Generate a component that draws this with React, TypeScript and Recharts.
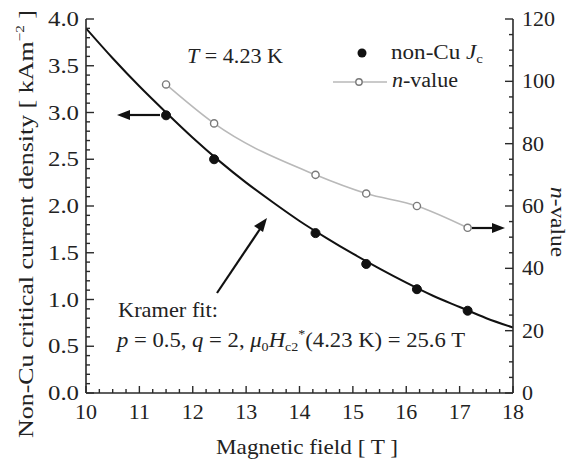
import React from 'react';
import { ComposedChart, Line, XAxis, YAxis } from 'recharts';

const fieldB = [11.5, 12.4, 14.3, 15.25, 16.2, 17.15];
const jcValues = [2.97, 2.5, 1.71, 1.38, 1.11, 0.88];
const nValues = [99, 86.5, 70, 64, 60, 53];

// Kramer fit curve
const fitB = [10, 10.5, 11, 11.5, 12, 12.5, 13, 13.5, 14, 14.5, 15, 15.5, 16, 16.5, 17, 17.5, 18];
const fitJ = [3.9, 3.58, 3.28, 3.0, 2.73, 2.48, 2.25, 2.04, 1.84, 1.66, 1.49, 1.33, 1.18, 1.04, 0.92, 0.8, 0.7];

// Tick positions
const xTicks = [10, 10.25, 10.5, 10.75, 11, 11.25, 11.5, 11.75, 12, 12.25, 12.5, 12.75, 13, 13.25, 13.5, 13.75, 14, 14.25, 14.5, 14.75, 15, 15.25, 15.5, 15.75, 16, 16.25, 16.5, 16.75, 17, 17.25, 17.5, 17.75, 18];
const jTicks = [0, 0.1, 0.2, 0.3, 0.4, 0.5, 0.6, 0.7, 0.8, 0.9, 1.0, 1.1, 1.2, 1.3, 1.4, 1.5, 1.6, 1.7, 1.8, 1.9, 2.0, 2.1, 2.2, 2.3, 2.4, 2.5, 2.6, 2.7, 2.8, 2.9, 3.0, 3.1, 3.2, 3.3, 3.4, 3.5, 3.6, 3.7, 3.8, 3.9, 4.0];
const nTicks = [0, 5, 10, 15, 20, 25, 30, 35, 40, 45, 50, 55, 60, 65, 70, 75, 80, 85, 90, 95, 100, 105, 110, 115, 120];

const measured = fieldB.map((b, i) => ({ B: b, jc: jcValues[i], n: nValues[i] }));
const fit = fitB.map((b, i) => ({ B: b, fit: fitJ[i] }));

const AX = '#2a2a2a';
const FONT = 'Liberation Serif';
const TXT = '#222';
const F = (size: number, extra: React.CSSProperties = {}): React.CSSProperties => ({
  fontFamily: FONT,
  fontSize: size,
  ...extra,
});

const isInt = (v: number, step: number) => Math.abs(v / step - Math.round(v / step)) < 1e-6;

const BottomTick = (props: any) => {
  const { x, y, payload } = props;
  const v = payload.value;
  const major = isInt(v, 1);
  return (
    <g>
      <line x1={x} y1={y} x2={x} y2={y - (major ? 7 : 4)} stroke={AX} strokeWidth={1.4} />
      {major && (
        <text x={x} y={y + 26} textAnchor="middle" style={F(22)} fill={TXT}>
          {v}
        </text>
      )}
    </g>
  );
};

const TopTick = (props: any) => {
  const { x, y, payload } = props;
  const v = payload.value;
  const major = isInt(v, 1);
  return <line x1={x} y1={y} x2={x} y2={y + (major ? 7 : 4)} stroke={AX} strokeWidth={1.4} />;
};

const LeftTick = (props: any) => {
  const { x, y, payload } = props;
  const v = payload.value;
  const major = isInt(v, 0.5);
  return (
    <g>
      <line x1={x} y1={y} x2={x + (major ? 8 : 4)} y2={y} stroke={AX} strokeWidth={1.4} />
      {major && (
        <text x={x - 7} y={y + 7} textAnchor="end" style={F(22)} fill={TXT} textLength={31} lengthAdjust="spacingAndGlyphs">
          {v.toFixed(1)}
        </text>
      )}
    </g>
  );
};

const RightTick = (props: any) => {
  const { x, y, payload } = props;
  const v = payload.value;
  const major = isInt(v, 20);
  return (
    <g>
      <line x1={x} y1={y} x2={x - (major ? 8 : 4)} y2={y} stroke={AX} strokeWidth={1.4} />
      {major && (
        <text x={x + 9} y={y + 7} textAnchor="start" style={F(22)} fill={TXT}>
          {v}
        </text>
      )}
    </g>
  );
};

const Dot = (props: any) => {
  const { cx, cy } = props;
  if (cx == null || cy == null) return null;
  return <circle cx={cx} cy={cy} r={4.5} fill="#111" stroke="#111" />;
};

const OpenDot = (props: any) => {
  const { cx, cy } = props;
  if (cx == null || cy == null) return null;
  return <circle cx={cx} cy={cy} r={3.6} fill="#fff" stroke="#7a7a7a" strokeWidth={1.4} />;
};

export default function App() {
  return (
    <div style={{ position: 'absolute', left: 0, top: 0, width: 572, height: 463, background: '#fff' }}>
      <ComposedChart width={572} height={463} margin={{ top: 19, right: 19, bottom: 30, left: 30 }}>
        <XAxis
          dataKey="B"
          type="number"
          domain={[10, 18]}
          ticks={xTicks}
          interval={0}
          allowDataOverflow
          height={40}
          tickSize={0}
          tickMargin={0}
          tickLine={false}
          axisLine={{ stroke: AX, strokeWidth: 1.6 }}
          tick={(p: any) => <BottomTick {...p} />}
        />
        <XAxis
          xAxisId="top"
          orientation="top"
          dataKey="B"
          type="number"
          domain={[10, 18]}
          ticks={xTicks}
          interval={0}
          allowDataOverflow
          height={0}
          tickSize={0}
          tickMargin={0}
          tickLine={false}
          axisLine={{ stroke: AX, strokeWidth: 1.6 }}
          tick={(p: any) => <TopTick {...p} />}
        />
        <YAxis
          yAxisId="j"
          type="number"
          domain={[0, 4]}
          ticks={jTicks}
          interval={0}
          allowDataOverflow
          width={56}
          tickSize={0}
          tickMargin={0}
          tickLine={false}
          axisLine={{ stroke: AX, strokeWidth: 1.6 }}
          tick={(p: any) => <LeftTick {...p} />}
        />
        <YAxis
          yAxisId="n"
          orientation="right"
          type="number"
          domain={[0, 120]}
          ticks={nTicks}
          interval={0}
          allowDataOverflow
          width={40}
          tickSize={0}
          tickMargin={0}
          tickLine={false}
          axisLine={{ stroke: AX, strokeWidth: 1.6 }}
          tick={(p: any) => <RightTick {...p} />}
        />
        <Line
          yAxisId="j"
          data={fit}
          dataKey="fit"
          type="monotone"
          stroke="#111"
          strokeWidth={2}
          dot={false}
          isAnimationActive={false}
        />
        <Line
          yAxisId="n"
          data={measured}
          dataKey="n"
          type="monotone"
          stroke="#b9b9b9"
          strokeWidth={1.6}
          dot={(p: any) => <OpenDot key={`o${p.index}`} {...p} />}
          isAnimationActive={false}
        />
        <Line
          yAxisId="j"
          data={measured}
          dataKey="jc"
          stroke="none"
          dot={(p: any) => <Dot key={`d${p.index}`} {...p} />}
          isAnimationActive={false}
        />
      </ComposedChart>
      <svg
        width={572}
        height={463}
        style={{ position: 'absolute', left: 0, top: 0, pointerEvents: 'none', fontFamily: FONT }}
        fill={TXT}
      >
        {/* axis titles */}
        <text
          x={33}
          y={224}
          transform="rotate(-90, 33, 224)"
          textAnchor="middle"
          style={F(22)}
          textLength={428}
          lengthAdjust="spacingAndGlyphs"
        >
          Non-Cu critical current density [ kAm
          <tspan style={F(13)} dy={-9}>−2</tspan>
          <tspan dy={9}> ]</tspan>
        </text>
        <text
          x={551}
          y={222}
          transform="rotate(90, 551, 222)"
          textAnchor="middle"
          style={F(22)}
          textLength={70}
          lengthAdjust="spacingAndGlyphs"
        >
          <tspan fontStyle="italic">n</tspan>-value
        </text>
        <text x={307} y={454} textAnchor="middle" style={F(22)} textLength={182} lengthAdjust="spacingAndGlyphs">
          Magnetic field [ T ]
        </text>

        {/* temperature label */}
        <text x={187} y={63} style={F(21)} textLength={96} lengthAdjust="spacingAndGlyphs">
          <tspan fontStyle="italic">T</tspan> = 4.23 K
        </text>

        {/* legend */}
        <circle cx={362} cy={53} r={4.5} fill="#111" />
        <text x={391} y={59} style={F(20)} textLength={92} lengthAdjust="spacingAndGlyphs">
          non-Cu <tspan fontStyle="italic">J</tspan>
          <tspan style={F(13)} dy={4}>c</tspan>
        </text>
        <line x1={333} y1={82} x2={387} y2={82} stroke="#b9b9b9" strokeWidth={1.6} />
        <circle cx={359} cy={82} r={3.2} fill="#fff" stroke="#7a7a7a" strokeWidth={1.4} />
        <text x={392} y={87} style={F(20)} textLength={66} lengthAdjust="spacingAndGlyphs">
          <tspan fontStyle="italic">n</tspan>-value
        </text>

        {/* Kramer fit annotation */}
        <text x={118} y={317} style={F(22)} textLength={100} lengthAdjust="spacingAndGlyphs">
          Kramer fit:
        </text>
        <text x={117} y={347} style={F(21)} textLength={348} lengthAdjust="spacingAndGlyphs">
          <tspan fontStyle="italic">p</tspan> = 0.5, <tspan fontStyle="italic">q</tspan> = 2,{' '}
          <tspan fontStyle="italic">μ</tspan>
          <tspan style={F(13)} dy={4}>0</tspan>
          <tspan fontStyle="italic" dy={-4}>H</tspan>
          <tspan style={F(13)} dy={4}>c2</tspan>
          <tspan style={F(13)} dy={-13}>*</tspan>
          <tspan dy={9}>(4.23 K) = 25.6 T</tspan>
        </text>

        {/* arrows */}
        <line x1={160} y1={115} x2={128} y2={115} stroke="#111" strokeWidth={2.2} />
        <polygon points="117,115 130,110 130,120" fill="#111" />
        <line x1={472} y1={228} x2={494} y2={228} stroke="#111" strokeWidth={2.2} />
        <polygon points="505,228 492,223 492,233" fill="#111" />
        <line x1={217} y1={293} x2={260} y2={229} stroke="#111" strokeWidth={2.2} />
        <polygon points="267,218 254,226 263,232" fill="#111" />
      </svg>
    </div>
  );
}
